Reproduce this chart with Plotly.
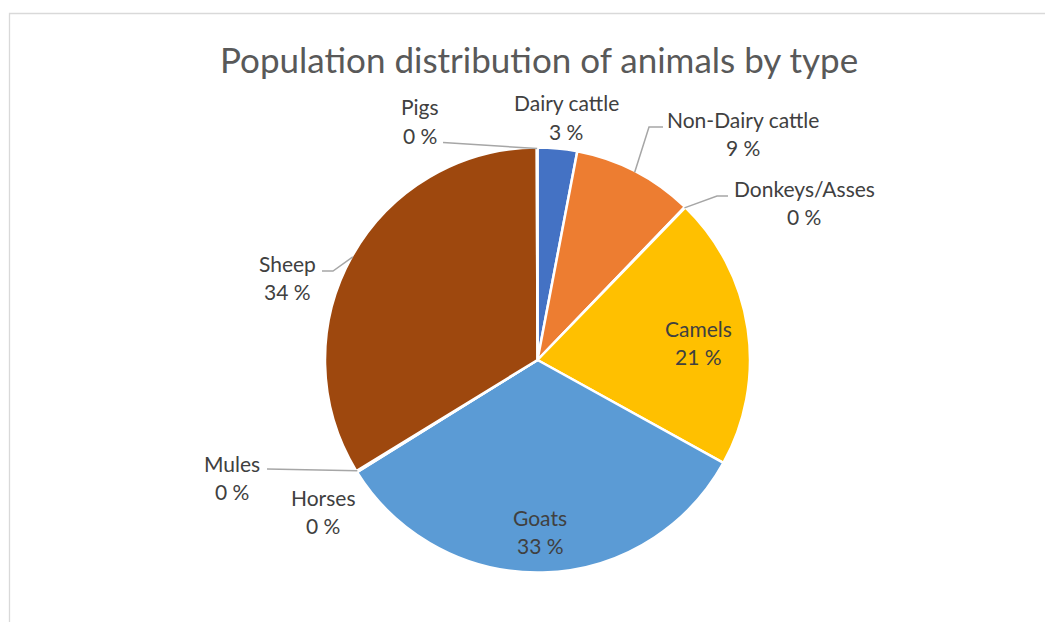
import plotly.graph_objects as go
import math

# ---------------- data ----------------
categories = ["Dairy cattle", "Non-Dairy cattle", "Donkeys/Asses", "Camels", "Goats",
              "Horses", "Mules", "Sheep", "Pigs"]
values = [3.0, 9.2, 0.05, 20.8, 33.1, 0.05, 0.05, 33.7, 0.05]
colors = ["#4472C4", "#ED7D31", "#A5A5A5", "#FFC000", "#5B9BD5",
          "#70AD47", "#264478", "#9E480E", "#636363"]
title_text = "Population distribution of animals by type"

# ---------------- layout constants (page pixels) ----------------
PAGE_OFF = 8            # default body margin of the html page
W, H = 1045, 614        # figure size
CX, CY, R = 537.5, 360.0, 212.5
FONT = "Lato"
LABEL_COLOR = "#404040"
LEADER_COLOR = "#A6A6A6"
LINE_GAP = 28.5

# label block centres and optional leader elbows (style/layout, not data)
label_pos = {
    "Dairy cattle": (566, 117),
    "Non-Dairy cattle": (743, 133.5),
    "Donkeys/Asses": (804, 202.5),
    "Camels": (698, 342.5),
    "Goats": (540, 531.5),
    "Horses": (323, 511.5),
    "Mules": (232, 477.5),
    "Sheep": (287, 277.5),
    "Pigs": (420, 121),
}
leaders = {  # start point at label side, elbow (or None)
    "Pigs": ((443, 142.5), None),
    "Non-Dairy cattle": ((663, 127), (649, 127)),
    "Donkeys/Asses": ((728, 196), (717, 196)),
    "Mules": ((267, 469), None),
    "Sheep": ((322, 271), (333, 271)),
}


def px(x):
    return (x - PAGE_OFF) / W


def py(y):
    return 1 - (y - PAGE_OFF) / H


total = sum(values)
pct_text = [f"{round(v / total * 100)} %" for v in values]

fig = go.Figure(go.Pie(
    labels=categories,
    values=values,
    sort=False,
    direction="clockwise",
    rotation=0,
    marker=dict(colors=colors, line=dict(color="white", width=2.5)),
    textinfo="none",
    hoverinfo="label+percent",
    domain=dict(x=[px(CX - R), px(CX + R)], y=[py(CY + R), py(CY - R)]),
    showlegend=False,
))

annotations = [dict(
    text=title_text, x=px(CX + 1), y=py(59), xref="paper", yref="paper",
    xanchor="center", yanchor="middle", showarrow=False,
    font=dict(family=FONT, size=35, color="#595959"),
)]

shapes = [dict(type="rect", xref="paper", yref="paper",
               x0=px(9.5), x1=1.2, y0=-0.2, y1=py(13.5),
               line=dict(color="#D9D9D9", width=1.3), fillcolor="rgba(0,0,0,0)")]

# slice mid-angles from data
cum = 0.0
for name, v, t in zip(categories, values, pct_text):
    mid = (cum + v / 2) / total * 2 * math.pi
    cum += v
    lx, ly = label_pos[name]
    for line_text, dy in ((name, -LINE_GAP / 2), (t, LINE_GAP / 2)):
        annotations.append(dict(
            text=line_text, x=px(lx), y=py(ly + dy), xref="paper", yref="paper",
            xanchor="center", yanchor="middle", showarrow=False, align="center",
            font=dict(family=FONT, size=21, color=LABEL_COLOR),
        ))
    if name in leaders:
        start, elbow = leaders[name]
        ex = CX + (R - 1) * math.sin(mid)
        ey = CY - (R - 1) * math.cos(mid)
        pts = [start] + ([elbow] if elbow else []) + [(ex, ey)]
        path = "M " + " L ".join(f"{px(a):.5f},{py(b):.5f}" for a, b in pts)
        shapes.append(dict(type="path", xref="paper", yref="paper", path=path,
                           line=dict(color=LEADER_COLOR, width=1.5)))

fig.update_layout(
    width=W, height=H,
    margin=dict(l=0, r=0, t=0, b=0),
    paper_bgcolor="white", plot_bgcolor="white",
    annotations=annotations, shapes=shapes,
)

fig.write_html("out.html")
